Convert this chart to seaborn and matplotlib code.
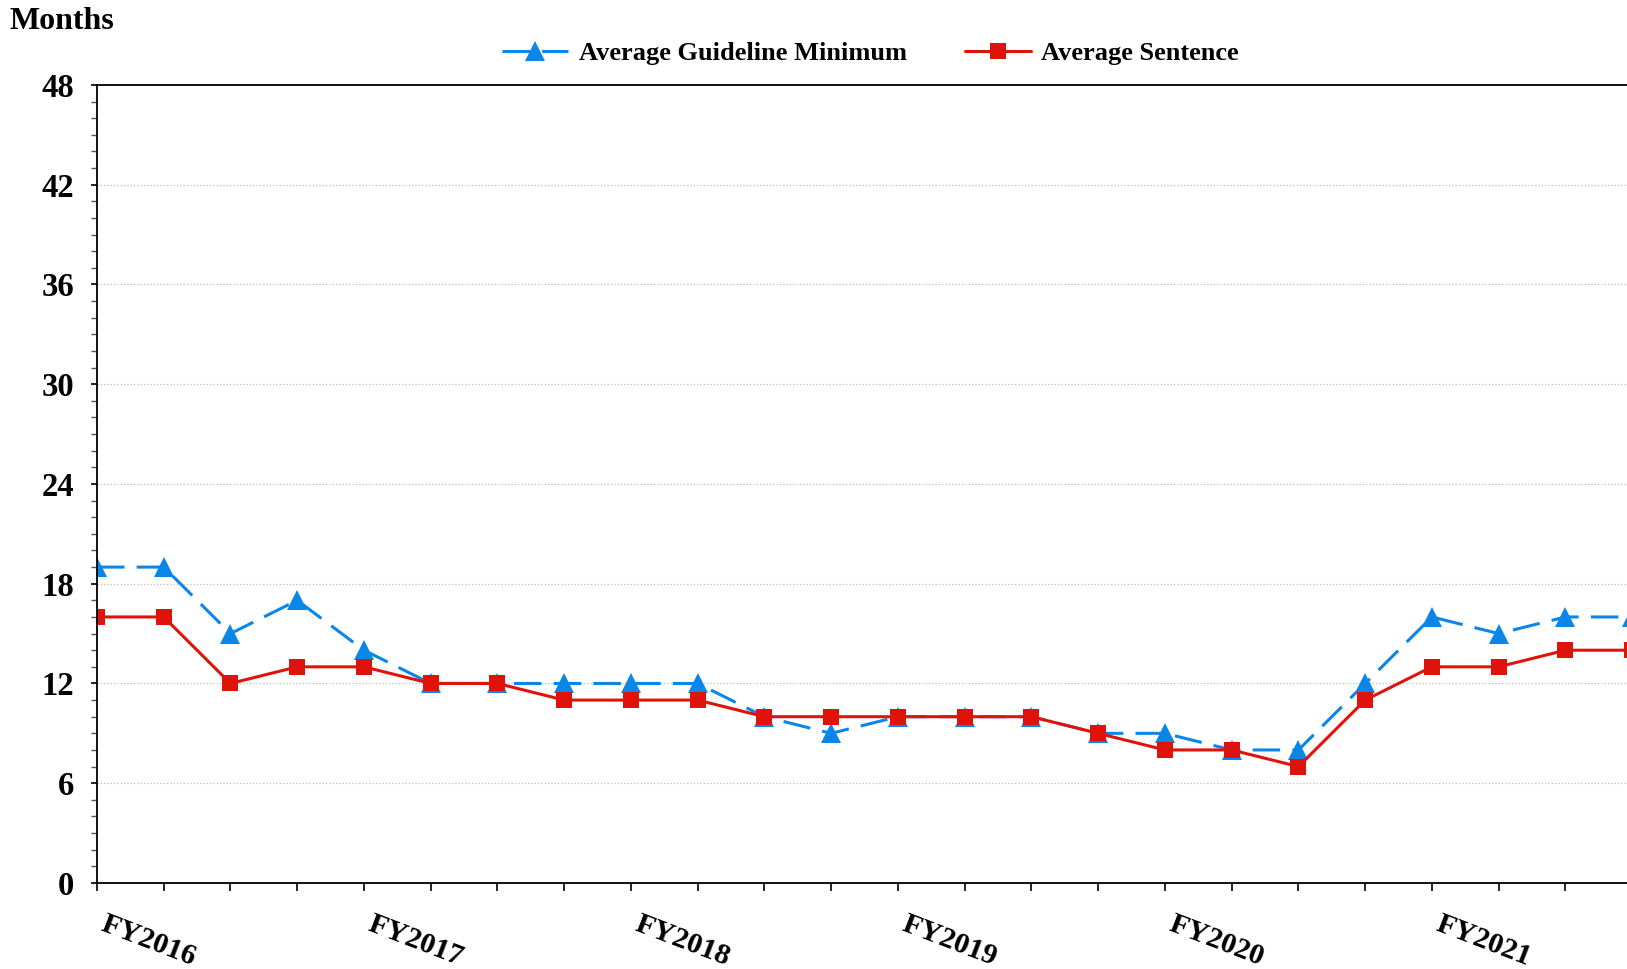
import pandas as pd
import seaborn as sns
import matplotlib.pyplot as plt
from matplotlib.ticker import MultipleLocator

# Data per kuartal FY2016 - FY2021
quarters = list(range(24))
fy_labels = ['FY2016', '', '', '', 'FY2017', '', '', '', 'FY2018', '', '', '',
             'FY2019', '', '', '', 'FY2020', '', '', '', 'FY2021', '', '', '']
guideline_min = [19, 19, 15, 17, 14, 12, 12, 12, 12, 12, 10, 9,
                 10, 10, 10, 9, 9, 8, 8, 12, 16, 15, 16, 16]
avg_sentence = [16, 16, 12, 13, 13, 12, 12, 11, 11, 11, 10, 10,
                10, 10, 10, 9, 8, 8, 7, 11, 13, 13, 14, 14]

df = pd.DataFrame({'Kuartal': quarters,
                   'Average Guideline Minimum': guideline_min,
                   'Average Sentence': avg_sentence})

sns.set_style("ticks")
plt.rcParams['font.family'] = ['Liberation Serif', 'DejaVu Serif']
plt.rcParams['font.weight'] = 'bold'
plt.rcParams['text.color'] = 'black'
plt.rcParams['xtick.color'] = 'black'
plt.rcParams['ytick.color'] = 'black'
plt.rcParams['xtick.labelcolor'] = 'black'
plt.rcParams['ytick.labelcolor'] = 'black'

blue = '#0A86E8'
red = '#E0130B'

fig = plt.figure(figsize=(16.27, 9.69), dpi=100)
ax = fig.add_axes([0.0596, 0.0888, 0.9846, 0.8235])

sns.lineplot(data=df, x='Kuartal', y='Average Guideline Minimum', ax=ax,
             color=blue, marker='^', markersize=14, linewidth=2.2,
             markeredgewidth=0, label='Average Guideline Minimum')
ax.lines[-1].set_dashes([9, 4])
sns.lineplot(data=df, x='Kuartal', y='Average Sentence', ax=ax,
             color=red, marker='s', markersize=11.5, linewidth=2.2,
             markeredgewidth=0, label='Average Sentence')

ax.set_xlim(0, 24)
ax.set_ylim(0, 48)
ax.set_xticks(quarters)
ax.set_xticklabels(fy_labels, rotation=-21, ha='left', va='top',
                   fontsize=21.5, fontweight='bold', color='black')
ax.set_yticks(range(0, 49, 6))
ax.yaxis.set_minor_locator(MultipleLocator(1))
ax.tick_params(axis='y', labelsize=23.5, length=4.5, width=1.2, pad=12)
ax.tick_params(axis='y', which='minor', length=4.5, width=1, color='#555555')
ax.tick_params(axis='x', length=6, width=1.2, pad=14)
for t in ax.get_yticklabels():
    t.set_fontweight('bold')

ax.set_xlabel('')
ax.set_ylabel('')
for y in range(6, 48, 6):
    ax.axhline(y, color='#bdbdbd', linestyle=':', linewidth=0.9, zorder=0)
for s in ax.spines.values():
    s.set_linewidth(1.3)
    s.set_color('black')

handles, labels = ax.get_legend_handles_labels()
ax.get_legend().remove()
fig.legend(handles, labels, loc='center', bbox_to_anchor=(0.535, 0.945),
           ncol=2, frameon=False, handlelength=2.5,
           handletextpad=0.4, columnspacing=2.2,
           prop={'weight': 'bold', 'size': 19})

fig.text(0.006, 0.978, 'Months', fontsize=23, fontweight='bold', va='center')

fig.savefig('out.png', dpi=100)
